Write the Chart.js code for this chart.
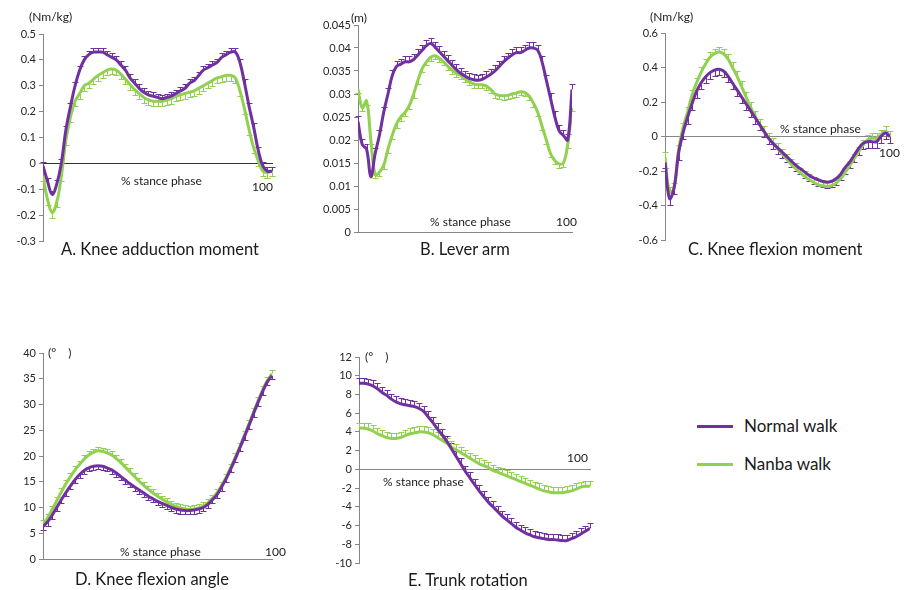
<!DOCTYPE html>
<html>
<head>
<meta charset="utf-8">
<script src="https://cdn.jsdelivr.net/npm/chart.js@4/dist/chart.umd.min.js"></script>
<style>
  body { margin: 0; background: #fff; width: 906px; height: 590px; position: relative; overflow: hidden;
         font-family: Lato, "Liberation Sans", sans-serif; color: #1a1a1a; }
  canvas { position: absolute; }
  .t { position: absolute; white-space: nowrap; line-height: 1; }
  .unit { font-size: 12px; }
  .lab { font-size: 12px; }
  .title { font-size: 16.5px; }
  .leg { position: absolute; font-size: 17px; line-height: 1; white-space: nowrap; }
  .leg i { display: inline-block; width: 36px; height: 3px; vertical-align: middle; margin-right: 11px; position: relative; top: -1px; }
</style>
</head>
<body>
<canvas id="chart-a" width="285" height="235" style="left:0;top:20px"></canvas>
<canvas id="chart-b" width="290" height="235" style="left:300px;top:10px"></canvas>
<canvas id="chart-c" width="306" height="240" style="left:600px;top:15px"></canvas>
<canvas id="chart-d" width="290" height="240" style="left:0;top:335px"></canvas>
<canvas id="chart-e" width="300" height="240" style="left:300px;top:340px"></canvas>

<div class="t unit" style="left:29px;top:11px">(Nm/kg)</div>
<div class="t lab" style="left:121px;top:175px">% stance phase</div>
<div class="t lab" style="left:252px;top:181px">100</div>
<div class="t title" style="left:61px;top:241px">A. Knee adduction moment</div>

<div class="t unit" style="left:351px;top:12px">(m)</div>
<div class="t lab" style="left:430px;top:216px">% stance phase</div>
<div class="t lab" style="left:556px;top:216px">100</div>
<div class="t title" style="left:420px;top:241px">B. Lever arm</div>

<div class="t unit" style="left:650px;top:11px">(Nm/kg)</div>
<div class="t lab" style="left:780px;top:123px">% stance phase</div>
<div class="t lab" style="left:879px;top:147px">100</div>
<div class="t title" style="left:688px;top:241px">C. Knee flexion moment</div>

<div class="t unit" style="left:48px;top:347px">(°&#12288;)</div>
<div class="t lab" style="left:120px;top:546px">% stance phase</div>
<div class="t lab" style="left:265px;top:546px">100</div>
<div class="t title" style="left:75px;top:571px">D. Knee flexion angle</div>

<div class="t unit" style="left:365px;top:351px">(°&#12288;)</div>
<div class="t lab" style="left:383px;top:476px">% stance phase</div>
<div class="t lab" style="left:567px;top:452px">100</div>
<div class="t title" style="left:408px;top:572px">E. Trunk rotation</div>

<div class="leg" style="left:697px;top:417px"><i style="background:#7030A0"></i>Normal walk</div>
<div class="leg" style="left:697px;top:455px"><i style="background:#92D050"></i>Nanba walk</div>

<script>
// % of stance phase
const stance = [0, 2, 4, 6, 8, 10, 12, 14, 16, 18, 20, 22, 24, 26, 28, 30, 32, 34, 36, 38, 40,
  42, 44, 46, 48, 50, 52, 54, 56, 58, 60, 62, 64, 66, 68, 70, 72, 74, 76, 78, 80,
  82, 84, 86, 88, 90, 92, 94, 96, 98, 100];

// A. knee adduction moment (Nm/kg)
const kamNormal = [-0.01, -0.07, -0.12, -0.08, 0.0, 0.13, 0.22, 0.30, 0.36, 0.40, 0.42, 0.43, 0.43, 0.43, 0.42, 0.41,
  0.40, 0.38, 0.36, 0.33, 0.31, 0.29, 0.275, 0.265, 0.26, 0.255, 0.25, 0.255, 0.26, 0.27, 0.28, 0.29, 0.31, 0.32,
  0.34, 0.36, 0.37, 0.38, 0.39, 0.41, 0.42, 0.43, 0.43, 0.39, 0.31, 0.22, 0.14, 0.05, -0.01, -0.03, -0.03];
const kamNanba = [-0.05, -0.14, -0.19, -0.15, -0.05, 0.09, 0.18, 0.24, 0.27, 0.30, 0.31, 0.325, 0.34, 0.35, 0.36, 0.365,
  0.36, 0.345, 0.325, 0.305, 0.285, 0.27, 0.255, 0.245, 0.24, 0.24, 0.24, 0.245, 0.25, 0.26, 0.265, 0.27, 0.275, 0.28,
  0.29, 0.30, 0.31, 0.32, 0.33, 0.335, 0.34, 0.34, 0.33, 0.28, 0.21, 0.13, 0.06, 0.01, -0.03, -0.035, -0.03];

// B. lever arm (m)
const leverNormal = [0.024, 0.019, 0.018, 0.012, 0.017, 0.021, 0.026, 0.030, 0.034, 0.036, 0.0365, 0.037, 0.037,
  0.0375, 0.0385, 0.0395, 0.0405, 0.041, 0.0402, 0.0392, 0.0382, 0.0372, 0.0362, 0.0353, 0.0345, 0.0339, 0.0334,
  0.0331, 0.033, 0.0332, 0.0337, 0.0343, 0.035, 0.036, 0.037, 0.0378, 0.0385, 0.039, 0.039, 0.0395, 0.040, 0.040,
  0.0395, 0.037, 0.033, 0.029, 0.025, 0.022, 0.021, 0.020, 0.031];
const leverNanba = [0.031, 0.027, 0.0285, 0.020, 0.0125, 0.013, 0.0145, 0.018, 0.021, 0.0235, 0.025, 0.026, 0.0275,
  0.030, 0.033, 0.0355, 0.037, 0.038, 0.0383, 0.0378, 0.037, 0.036, 0.0352, 0.0345, 0.034, 0.0333, 0.0327, 0.0322,
  0.032, 0.032, 0.0317, 0.031, 0.030, 0.0297, 0.0296, 0.0297, 0.030, 0.0302, 0.0305, 0.0303, 0.0295, 0.028, 0.026,
  0.023, 0.020, 0.017, 0.0155, 0.0148, 0.015, 0.019, 0.027];

// C. knee flexion moment (Nm/kg)
const kfmNormal = [-0.15, -0.36, -0.30, -0.10, 0.02, 0.11, 0.19, 0.26, 0.31, 0.345, 0.37, 0.385, 0.39, 0.38, 0.35,
  0.31, 0.27, 0.23, 0.19, 0.15, 0.11, 0.07, 0.03, -0.01, -0.04, -0.065, -0.09, -0.115, -0.14, -0.165, -0.185, -0.205,
  -0.225, -0.24, -0.25, -0.26, -0.265, -0.26, -0.245, -0.22, -0.18, -0.15, -0.11, -0.07, -0.04, -0.03, -0.03, -0.03,
  0.0, 0.02, 0.0];
const kfmNanba = [-0.12, -0.32, -0.30, -0.08, 0.05, 0.14, 0.24, 0.31, 0.37, 0.42, 0.46, 0.48, 0.49, 0.48, 0.45, 0.40,
  0.35, 0.29, 0.23, 0.17, 0.12, 0.07, 0.03, -0.01, -0.04, -0.07, -0.10, -0.13, -0.16, -0.185, -0.21, -0.23, -0.25,
  -0.265, -0.28, -0.285, -0.29, -0.285, -0.27, -0.245, -0.21, -0.17, -0.13, -0.09, -0.05, -0.02, -0.01, -0.01, 0.01,
  0.03, 0.0];

// D. knee flexion angle (deg)
const kfaNormal = [6.3, 7.2, 8.5, 10.0, 11.5, 12.9, 14.2, 15.4, 16.4, 17.2, 17.7, 18.0, 18.1, 18.0, 17.7, 17.3, 16.7,
  16.0, 15.3, 14.6, 14.0, 13.4, 12.8, 12.2, 11.7, 11.2, 10.8, 10.4, 10.0, 9.7, 9.5, 9.4, 9.4, 9.5, 9.7, 10.0, 10.6,
  11.5, 12.5, 14.0, 15.6, 17.5, 19.5, 21.6, 23.8, 26.0, 28.3, 30.5, 32.6, 34.4, 35.6];
const kfaNanba = [6.8, 8.0, 9.6, 11.3, 13.0, 14.6, 16.0, 17.3, 18.4, 19.4, 20.2, 20.7, 21.0, 20.9, 20.6, 20.2, 19.5,
  18.7, 17.8, 16.9, 16.0, 15.1, 14.3, 13.5, 12.8, 12.2, 11.6, 11.1, 10.6, 10.2, 9.9, 9.7, 9.6, 9.7, 9.9, 10.3, 10.9,
  11.8, 12.9, 14.3, 15.9, 17.8, 19.8, 21.9, 24.1, 26.3, 28.6, 30.8, 32.9, 34.7, 36.0];

// E. trunk rotation (deg)
const trunkNormal = [9.2, 9.2, 9.1, 8.9, 8.6, 8.2, 7.9, 7.5, 7.2, 7.0, 6.9, 6.8, 6.7, 6.5, 6.2, 5.6, 5.0, 4.3, 3.7,
  3.0, 2.2, 1.4, 0.6, -0.2, -0.9, -1.6, -2.3, -2.9, -3.5, -4.0, -4.5, -5.0, -5.4, -5.8, -6.2, -6.5, -6.8, -7.0, -7.2,
  -7.3, -7.4, -7.5, -7.5, -7.55, -7.6, -7.6, -7.4, -7.2, -6.9, -6.6, -6.3];
const trunkNanba = [4.4, 4.4, 4.3, 4.1, 3.8, 3.6, 3.4, 3.3, 3.3, 3.4, 3.6, 3.8, 3.9, 4.0, 4.0, 3.9, 3.7, 3.4, 3.1, 2.8,
  2.4, 2.1, 1.8, 1.5, 1.2, 0.9, 0.6, 0.4, 0.2, -0.1, -0.3, -0.5, -0.7, -0.9, -1.1, -1.3, -1.5, -1.7, -1.9, -2.1, -2.3,
  -2.4, -2.5, -2.5, -2.5, -2.4, -2.3, -2.1, -1.9, -1.8, -1.8];

// SD bar lengths [normal, nanba]; sign gives the side the bar is drawn on
const sdA = [0.015, -0.02];
const sdB = [0.0012, -0.0008];
const sdC = [-0.035, 0.03];
const sdD = [-0.7, 0.7];
const sdE = [0.6, 0.6];

const PURPLE = '#7030A0';
const GREEN = '#92D050';

const errorBars = {
  id: 'errorBars',
  beforeDatasetsDraw(chart) {
    const { ctx } = chart;
    const yScale = chart.scales.y;
    chart.data.datasets.forEach((ds, i) => {
      const meta = chart.getDatasetMeta(i);
      ctx.save();
      ctx.strokeStyle = ds.borderColor;
      ctx.lineWidth = 1;
      ctx.beginPath();
      meta.data.forEach((pt, j) => {
        const y2 = Math.round(yScale.getPixelForValue(ds.data[j].y + ds.sd)) + 0.5;
        const x = Math.round(pt.x) + 0.5;
        ctx.moveTo(x, pt.y);
        ctx.lineTo(x, y2);
        ctx.moveTo(x - 3, y2);
        ctx.lineTo(x + 3, y2);
      });
      ctx.stroke();
      ctx.restore();
    });
  }
};

function series(label, values, color, sd) {
  return {
    label,
    data: stance.map((x, i) => ({ x, y: values[i] })),
    borderColor: color,
    borderWidth: 3,
    pointRadius: 0,
    tension: 0.4,
    fill: false,
    sd,
  };
}

function makeChart(id, normal, nanba, sd, yMin, yMax, step, yWidth, pad, xBorder) {
  new Chart(document.getElementById(id), {
    type: 'line',
    data: {
      datasets: [
        series('Normal walk', normal, PURPLE, sd[0]),
        series('Nanba walk', nanba, GREEN, sd[1]),
      ]
    },
    options: {
      responsive: false,
      animation: false,
      devicePixelRatio: 1,
      layout: { padding: pad },
      plugins: { legend: { display: false }, tooltip: { enabled: false } },
      scales: {
        x: {
          type: 'linear', min: 0, max: 100,
          position: { y: 0 },
          ticks: { display: false },
          grid: { display: false },
          border: { display: true, color: xBorder, width: 1 },
        },
        y: {
          min: yMin, max: yMax,
          afterFit: s => { s.width = yWidth; },
          ticks: {
            stepSize: step, color: '#262626', padding: 3,
            font: { family: 'Lato', size: 11 },
            callback: v => String(+(+v).toFixed(4)),
          },
          grid: { display: true, drawOnChartArea: false, drawTicks: true, tickLength: 4, color: '#868686' },
          border: { display: true, color: '#868686', width: 1 },
        }
      }
    },
    plugins: [errorBars]
  });
}

makeChart('chart-a', kamNormal, kamNanba, sdA, -0.3, 0.5, 0.1, 43, { top: 14, bottom: 14, right: 13, left: 0 }, '#333');
makeChart('chart-b', leverNormal, leverNanba, sdB, 0, 0.045, 0.005, 58, { top: 15, bottom: 13, right: 18, left: 0 }, '#868686');
makeChart('chart-c', kfmNormal, kfmNanba, sdC, -0.6, 0.6, 0.2, 65, { top: 18, bottom: 15, right: 16, left: 0 }, '#868686');
makeChart('chart-d', kfaNormal, kfaNanba, sdD, 0, 40, 5, 43, { top: 18, bottom: 16, right: 18, left: 0 }, '#868686');
makeChart('chart-e', trunkNormal, trunkNanba, sdE, -10, 12, 2, 59, { top: 17, bottom: 17, right: 10, left: 0 }, '#868686');
</script>
</body>
</html>
